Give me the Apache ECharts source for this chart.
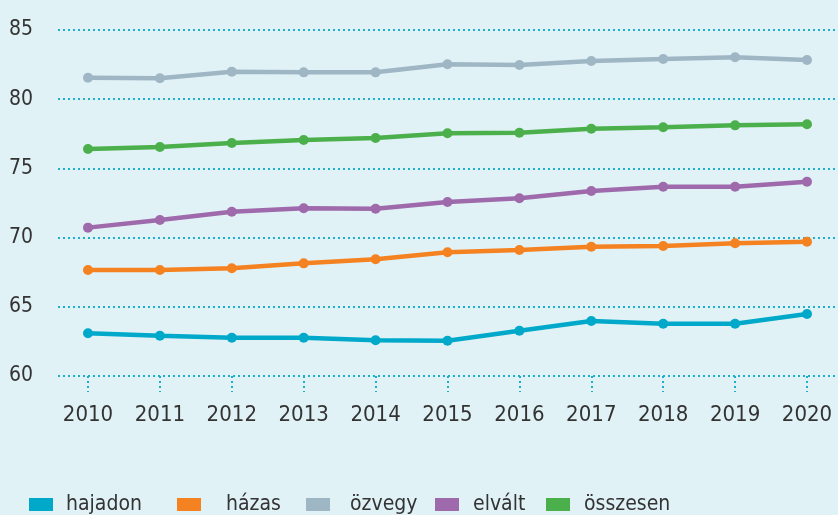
<!DOCTYPE html>
<html>
<head>
<meta charset="utf-8">
<script src="https://cdn.jsdelivr.net/npm/echarts@6/dist/echarts.min.js"></script>
<style>
html,body{margin:0;padding:0;background:#e1f2f7;}
#c{width:838px;height:515px;}
</style>
</head>
<body>
<div id="c"></div>
<script>
const years = ['2010','2011','2012','2013','2014','2015','2016','2017','2018','2019','2020'];
const hajadon  = [63.09, 62.91, 62.77, 62.77, 62.58, 62.55, 63.27, 63.97, 63.78, 63.78, 64.48];
const hazas    = [67.66, 67.66, 67.78, 68.14, 68.43, 68.94, 69.10, 69.34, 69.39, 69.59, 69.70];
const ozvegy   = [81.55, 81.51, 81.99, 81.94, 81.94, 82.52, 82.47, 82.76, 82.90, 83.03, 82.83];
const elvalt   = [70.72, 71.27, 71.87, 72.12, 72.09, 72.57, 72.84, 73.37, 73.68, 73.68, 74.04];
const osszesen = [76.40, 76.55, 76.84, 77.05, 77.20, 77.54, 77.58, 77.87, 77.97, 78.11, 78.19];
const yTicks = [60, 65, 70, 75, 80, 85];

const names = ['hajadon','házas','özvegy','elvált','összesen'];
const colors = ['#00a9c9','#f58220','#9fb6c5','#9e6aab','#4bb04b'];
const datas = [hajadon, hazas, ozvegy, elvalt, osszesen];
const legendX = [29, 177, 306, 435, 546];
const legendTextPad = [8, 20, 15, 9, 9];

const font = "'Liberation Sans Narrow', 'DejaVu Sans Condensed', sans-serif";
const gridColor = '#1cb0cc';

const chart = echarts.init(document.getElementById('c'), null, {renderer:'canvas'});
const option = {
  animation: false,
  backgroundColor: '#e1f2f7',
  grid: [
    {left: 58, right: 0, top: 30, bottom: 139},
    {left: 88, right: 31, top: 30, bottom: 139}
  ],
  xAxis: [
    {gridIndex: 0, type: 'category', data: years, show: false},
    {gridIndex: 1, type: 'category', data: years, boundaryGap: false,
     axisLine: {show: false},
     axisTick: {show: true, length: 16, lineStyle: {color: gridColor, width: 2, type: [2, 3]}},
     axisLabel: {margin: 28, color: '#333', fontSize: 22, fontFamily: font},
     splitLine: {show: false}}
  ],
  yAxis: [
    {gridIndex: 0, type: 'value', min: yTicks[0], max: yTicks[yTicks.length-1], interval: 5,
     axisLine: {show: false}, axisTick: {show: false},
     axisLabel: {margin: 25, color: '#333', fontSize: 21, fontFamily: font},
     splitLine: {show: true, lineStyle: {color: gridColor, width: 2, type: [2, 3]}}},
    {gridIndex: 1, type: 'value', min: yTicks[0], max: yTicks[yTicks.length-1], interval: 5,
     show: false, splitLine: {show: false}}
  ],
  legend: names.map((n, i) => ({
    data: [n], left: legendX[i], top: 494, padding: 0,
    icon: 'rect', itemWidth: 24, itemHeight: 13,
    textStyle: {color: '#333', fontSize: 21, fontFamily: font, padding: [0, 0, 0, legendTextPad[i]]}
  })),
  series: names.map((n, i) => ({
    name: n, type: 'line', xAxisIndex: 1, yAxisIndex: 1,
    data: datas[i], color: colors[i],
    symbol: 'circle', symbolSize: 10,
    lineStyle: {width: 4.5, color: colors[i]},
    itemStyle: {color: colors[i]}
  }))
};
chart.setOption(option);
</script>
</body>
</html>
